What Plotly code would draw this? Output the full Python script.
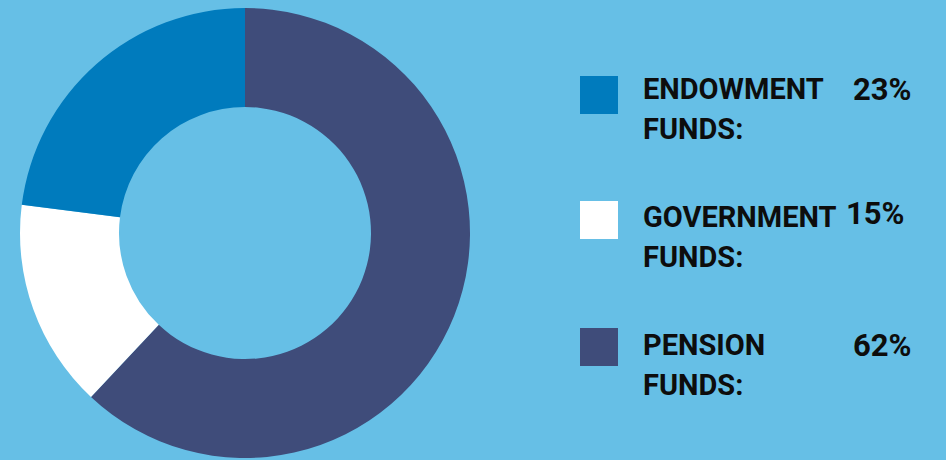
import plotly.graph_objects as go

W, H = 946, 460

categories = ["PENSION FUNDS:", "GOVERNMENT FUNDS:", "ENDOWMENT FUNDS:"]
values = [62, 15, 23]
colors = ["#3f4c7a", "#ffffff", "#007bbd"]

legend_lines = [["ENDOWMENT", "FUNDS:"], ["GOVERNMENT", "FUNDS:"], ["PENSION", "FUNDS:"]]
legend_pct = ["23%", "15%", "62%"]
legend_colors = ["#007bbd", "#ffffff", "#3f4c7a"]

BG = "#66bfe6"
TXT = "#0d0d0d"
FONT = "Roboto, Arial, sans-serif"
FS = 29

def px(x):
    return x / W

def py(y):
    return 1 - y / H

fig = go.Figure()
fig.add_trace(go.Pie(
    labels=categories, values=values, hole=0.56, sort=False,
    direction="clockwise", rotation=0,
    marker=dict(colors=colors, line=dict(width=0)),
    textinfo="none", hoverinfo="label+percent", showlegend=False,
    domain=dict(x=[px(20), px(470)], y=[py(458), py(8)]),
))

shapes = []
annotations = []
sq_tops = [76, 201, 328]
line1_mid = [89, 217, 345]
line_gap = 40
pct_mid = [89, 213, 345]
pct_right = [914, 907, 914]
for i in range(3):
    t = sq_tops[i]
    shapes.append(dict(type="rect", xref="paper", yref="paper",
                       x0=px(580), x1=px(618), y0=py(t + 38), y1=py(t),
                       fillcolor=legend_colors[i], line=dict(width=0)))
    for j, line in enumerate(legend_lines[i]):
        annotations.append(dict(text="<b>%s</b>" % line, xref="paper", yref="paper",
                                x=px(641), y=py(line1_mid[i] + j * line_gap),
                                xanchor="left", yanchor="middle", showarrow=False,
                                font=dict(family=FONT, size=FS, color=TXT)))
    annotations.append(dict(text="<b>%s</b>" % legend_pct[i], xref="paper", yref="paper",
                            x=px(pct_right[i]), y=py(pct_mid[i]),
                            xanchor="right", yanchor="middle", showarrow=False,
                            font=dict(family=FONT, size=FS + 2, color=TXT)))

fig.update_layout(
    width=W, height=H, margin=dict(l=0, r=0, t=0, b=0),
    paper_bgcolor=BG, plot_bgcolor=BG,
    shapes=shapes, annotations=annotations,
)
fig.write_html("out.html", config={"displayModeBar": False},
               post_script="document.body.style.margin='0';")
